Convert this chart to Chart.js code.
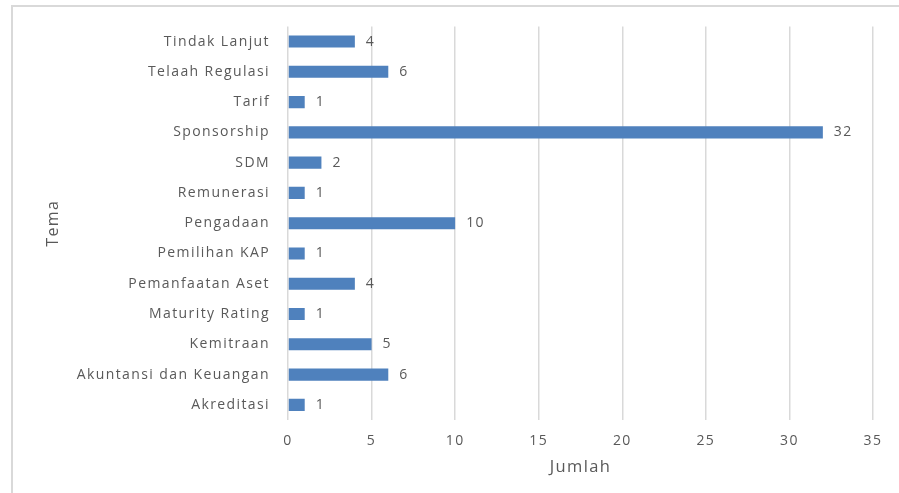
<!DOCTYPE html>
<html><head><meta charset="utf-8">
<script src="https://cdn.jsdelivr.net/npm/chart.js@4.4.0/dist/chart.umd.min.js"></script>
<style>
html,body{margin:0;padding:0;background:#fff;overflow:hidden}
#wrap{position:relative;width:899px;height:493px}
#frame{position:absolute;left:11px;top:5px;width:1000px;height:1000px;border:2px solid #d9d9d9;box-sizing:border-box}
canvas{position:absolute;left:0;top:0}
</style></head><body>
<div id="wrap"><div id="frame"></div><canvas id="c" width="899" height="493"></canvas></div>
<script>
const categories = ["Tindak Lanjut","Telaah Regulasi","Tarif","Sponsorship","SDM","Remunerasi","Pengadaan","Pemilihan KAP","Pemanfaatan Aset","Maturity Rating","Kemitraan","Akuntansi dan Keuangan","Akreditasi"];
const values = [4,6,1,32,2,1,10,1,4,1,5,6,1];
const xMin = 0, xMax = 35, xStep = 5;
const xTitle = "Jumlah";
const yTitle = "Tema";

const FONT = "'Open Sans', 'Noto Sans', sans-serif";
const TXT = "#595959";
const SPACING = '1.4px';

const spacingPlugin = {
  id: 'spacing',
  beforeUpdate(chart) { chart.ctx.letterSpacing = SPACING; },
  beforeLayout(chart) { chart.ctx.letterSpacing = SPACING; },
  beforeDraw(chart) { chart.ctx.letterSpacing = SPACING; }
};

const labelPlugin = {
  id: 'barLabels',
  afterDatasetsDraw(chart) {
    const ctx = chart.ctx;
    const meta = chart.getDatasetMeta(0);
    ctx.save();
    ctx.letterSpacing = SPACING;
    ctx.font = "14px " + FONT;
    ctx.fillStyle = TXT;
    ctx.textAlign = 'left';
    ctx.textBaseline = 'middle';
    meta.data.forEach((bar, i) => {
      ctx.fillText(String(values[i]), bar.x + 11, bar.y);
    });
    ctx.restore();
  }
};

const cv = document.getElementById('c');
cv.getContext('2d').letterSpacing = SPACING;

new Chart(cv, {
  type: 'bar',
  data: {
    labels: categories,
    datasets: [{
      data: values,
      backgroundColor: '#4F81BD',
      borderWidth: 0,
      barPercentage: 0.8,
      categoryPercentage: 0.5
    }]
  },
  options: {
    indexAxis: 'y',
    responsive: false,
    animation: false,
    layout: { padding: { left: 44, top: 25, right: 26, bottom: 0 } },
    plugins: { legend: { display: false }, tooltip: { enabled: false } },
    scales: {
      x: {
        min: xMin, max: xMax,
        ticks: { stepSize: xStep, color: TXT, font: { family: FONT, size: 14 }, padding: 13 },
        grid: { color: '#D9D9D9', lineWidth: 1.5, drawTicks: false },
        border: { display: false },
        title: { display: true, text: xTitle, color: TXT, font: { family: FONT, size: 16.5 }, padding: { top: 2, bottom: 16 } },
        afterFit(s) { s.height = 73; }
      },
      y: {
        ticks: { color: TXT, font: { family: FONT, size: 14 }, padding: 18, autoSkip: false },
        grid: { display: false, drawTicks: false },
        border: { display: false },
        title: { display: true, text: yTitle, color: TXT, font: { family: FONT, size: 16 }, padding: { top: 0, bottom: 0 } },
        afterFit(s) { s.width = 244; }
      }
    }
  },
  plugins: [spacingPlugin, labelPlugin]
});
</script>
</body></html>
